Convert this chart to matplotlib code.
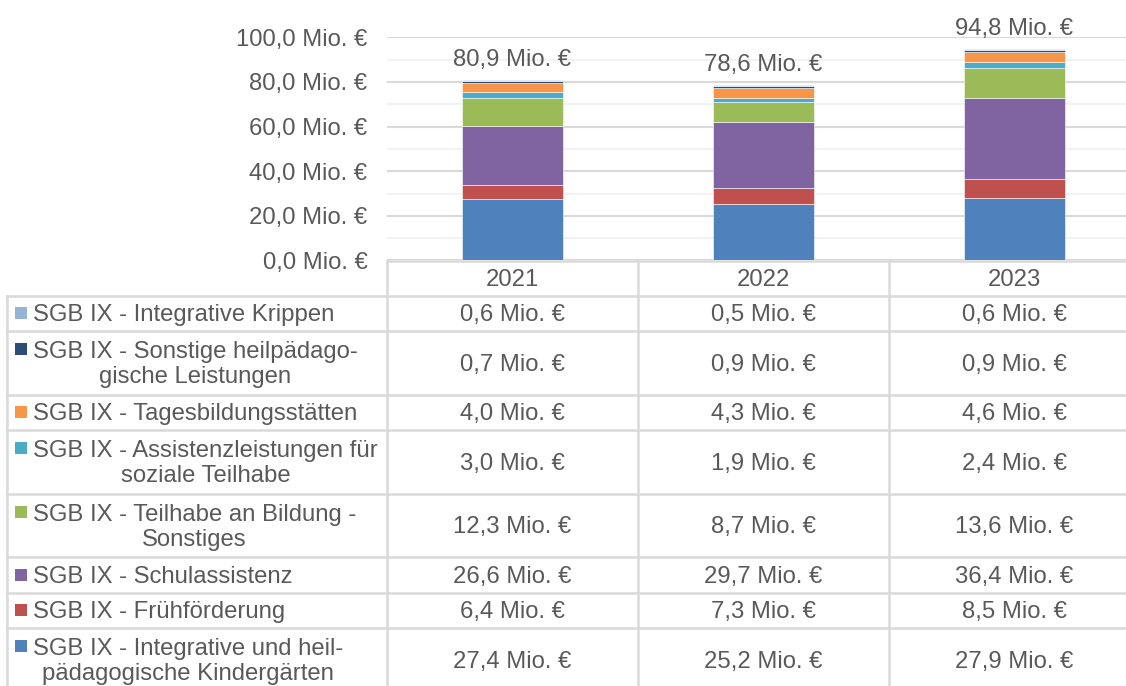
import numpy as np
import matplotlib.pyplot as plt
from matplotlib.patches import Rectangle

plt.rcParams['font.family'] = ['Liberation Sans', 'DejaVu Sans']

years = ['2021', '2022', '2023']
# bottom -> top in the stack
series = [
    'SGB IX - Integrative und heil-\npädagogische Kindergärten',
    'SGB IX - Frühförderung',
    'SGB IX - Schulassistenz',
    'SGB IX - Teilhabe an Bildung -\nSonstiges',
    'SGB IX - Assistenzleistungen für\nsoziale Teilhabe',
    'SGB IX - Tagesbildungsstätten',
    'SGB IX - Sonstige heilpädago-\ngische Leistungen',
    'SGB IX - Integrative Krippen',
]
kita = [27.4, 25.2, 27.9]
fruehf = [6.4, 7.3, 8.5]
schulass = [26.6, 29.7, 36.4]
bildung = [12.3, 8.7, 13.6]
assist = [3.0, 1.9, 2.4]
tages = [4.0, 4.3, 4.6]
sonstige = [0.7, 0.9, 0.9]
krippen = [0.6, 0.5, 0.6]
totals = [80.9, 78.6, 94.8]
values = [kita, fruehf, schulass, bildung, assist, tages, sonstige, krippen]
colors = ['#4F81BD', '#C0504D', '#8064A2', '#9BBB59',
          '#4BACC6', '#F79646', '#2C4D75', '#95B3D7']

txt = '#595959'
grid_c = '#D9D9D9'
fs = 17.2

def fmt(v):
    return ('%.1f' % v).replace('.', ',') + ' Mio. €'

W, H = 1126, 686
fig = plt.figure(figsize=(W / 100, H / 100), dpi=100)

# bar chart area (pixel layout: x 387..1140, y 37..260)
x0, x1, ytop, ybot = 387, 1140, 37.3, 260.5
ax = fig.add_axes([x0 / W, 1 - ybot / H, (x1 - x0) / W, (ybot - ytop) / H])
x = np.arange(len(years))
bottom = np.zeros(len(years))
for vals, c in zip(values, colors):
    ax.bar(x, vals, 0.4, bottom=bottom, color=c, edgecolor='white', linewidth=0.4, zorder=3)
    bottom += np.array(vals)
for xi, t, b in zip(x, totals, bottom):
    ax.annotate(fmt(t), (xi, b), xytext=(0, 20), textcoords='offset pixels',
                ha='center', va='center', fontsize=fs, color=txt, annotation_clip=False)
ax.set_xlim(-0.5, len(years) - 0.5)
ax.set_ylim(0, 100)
ax.set_yticks(np.arange(0, 101, 20))
ax.set_yticks(np.arange(10, 100, 20), minor=True)
ax.set_yticklabels([fmt(v) for v in np.arange(0, 101, 20)])
ax.tick_params(axis='y', which='both', length=0, pad=14, labelsize=fs, labelcolor=txt)
ax.tick_params(axis='x', length=0, labelbottom=False)
ax.grid(axis='y', which='major', color=grid_c, lw=1.5, zorder=0)
ax.grid(axis='y', which='minor', color='#F2F2F2', lw=1.5, zorder=0)
for s in ax.spines.values():
    s.set_visible(False)

# data table drawn underneath in pixel coordinates
tab = fig.add_axes([0, 0, 1, 1], zorder=-1)
tab.set_xlim(0, W)
tab.set_ylim(H, 0)
tab.axis('off')

fig.canvas.draw()
col_edges = [ax.transData.transform((e, 0))[0] for e in np.arange(-0.5, len(years), 1.0)]
col_mid = [ax.transData.transform((xi, 0))[0] for xi in x]
left = 7
dy = 2

lc = dict(color=grid_c, lw=1.8)
# header row
hy0, hy1 = 261, 295.5
tab.plot([col_edges[0], col_edges[-1]], [hy0, hy0], **lc)
for xm, yr in zip(col_mid, years):
    tab.text(xm, (hy0 + hy1) / 2 + dy, yr, ha='center', va='center', fontsize=fs, color=txt)

y = hy1
rows = list(zip(series, values, colors))[::-1]
pitch = 26.7
for name, vals, c in rows:
    nlines = name.count('\n') + 1
    h = 35.5 if nlines == 1 else 63.5
    yc = y + h / 2
    tab.plot([left, col_edges[-1]], [y, y], **lc)
    my = yc - (nlines - 1) * pitch / 2
    tab.add_patch(Rectangle((15, my - 6), 12, 12, color=c, lw=0))
    tab.text(33, yc + dy, name, ha='left', va='center', multialignment='center',
             fontsize=fs, color=txt, linespacing=1.2)
    for xm, v in zip(col_mid, vals):
        tab.text(xm, yc + dy, fmt(v), ha='center', va='center', fontsize=fs, color=txt)
    y += h
tab.plot([left, col_edges[-1]], [y, y], **lc)
tab.plot([left, left], [hy1, y], **lc)
for e in col_edges:
    tab.plot([e, e], [hy0, y], **lc)

fig.savefig('out.png', dpi=100)
